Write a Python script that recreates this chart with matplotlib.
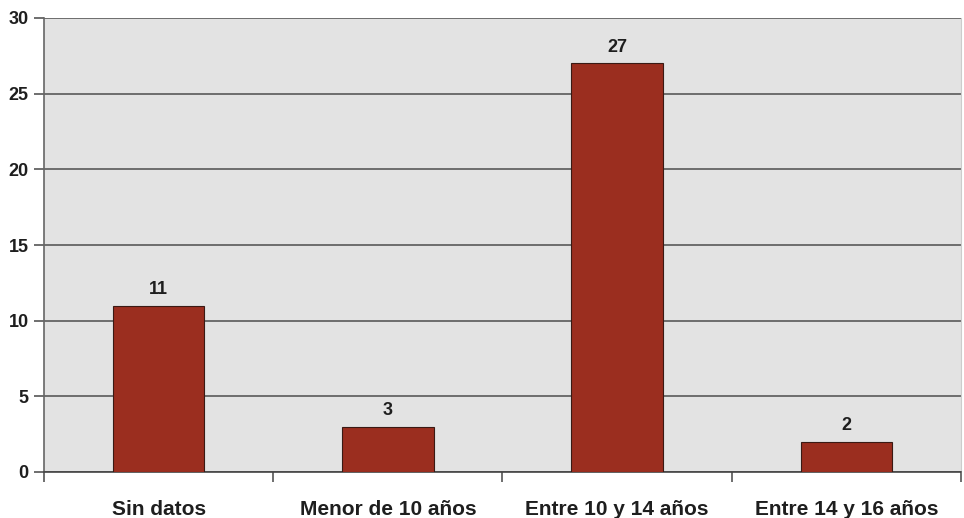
import matplotlib
matplotlib.use("Agg")
import matplotlib.pyplot as plt

categories = ["Sin datos", "Menor de 10 años", "Entre 10 y 14 años", "Entre 14 y 16 años"]
values = [11, 3, 27, 2]
yticks = [0, 5, 10, 15, 20, 25, 30]

plt.rcParams['font.family'] = ['Liberation Sans', 'DejaVu Sans']

fig = plt.figure(figsize=(9.64, 5.18), dpi=100)
ax = fig.add_axes([44/964, 46/518, (961-44)/964, (472-18)/518])
ax.set_facecolor("#e3e3e3")

x = list(range(len(categories)))
ax.bar(x, values, width=0.4, color="#9b2e1f", edgecolor="#3a1a14", linewidth=0.8, zorder=3)
for xi, v in zip(x, values):
    ax.text(xi, v + 0.5, str(v), ha="center", va="bottom", fontsize=13, fontweight="bold", color="#1e1e1e", zorder=4)

ax.set_xlim(-0.5, len(categories) - 0.5)
ax.set_ylim(0, 30)
ax.set_yticks(yticks)
ax.set_yticklabels([str(t) for t in yticks], fontsize=13, fontweight="bold", color="#1e1e1e")
ax.yaxis.grid(True, color="#5a5a5a", linewidth=1.2, zorder=1)

ax.set_xticks(x)
ax.set_xticklabels(categories, fontsize=15, fontweight="bold", color="#1e1e1e")
ax.tick_params(axis="x", length=0, pad=20)
ax.set_xticks([i - 0.5 for i in range(len(categories) + 1)], minor=True)
ax.tick_params(axis="x", which="minor", length=7, color="#555555", width=1.2)
ax.tick_params(axis="y", length=7, color="#555555", width=1.2, pad=4)

ax.spines["top"].set_visible(False)
ax.spines["right"].set_color("#cccccc")
ax.spines["left"].set_color("#666666")
ax.spines["left"].set_linewidth(1.2)
ax.spines["bottom"].set_color("#444444")
ax.spines["bottom"].set_linewidth(1.2)

fig.savefig("out.png", dpi=100, facecolor="white")
